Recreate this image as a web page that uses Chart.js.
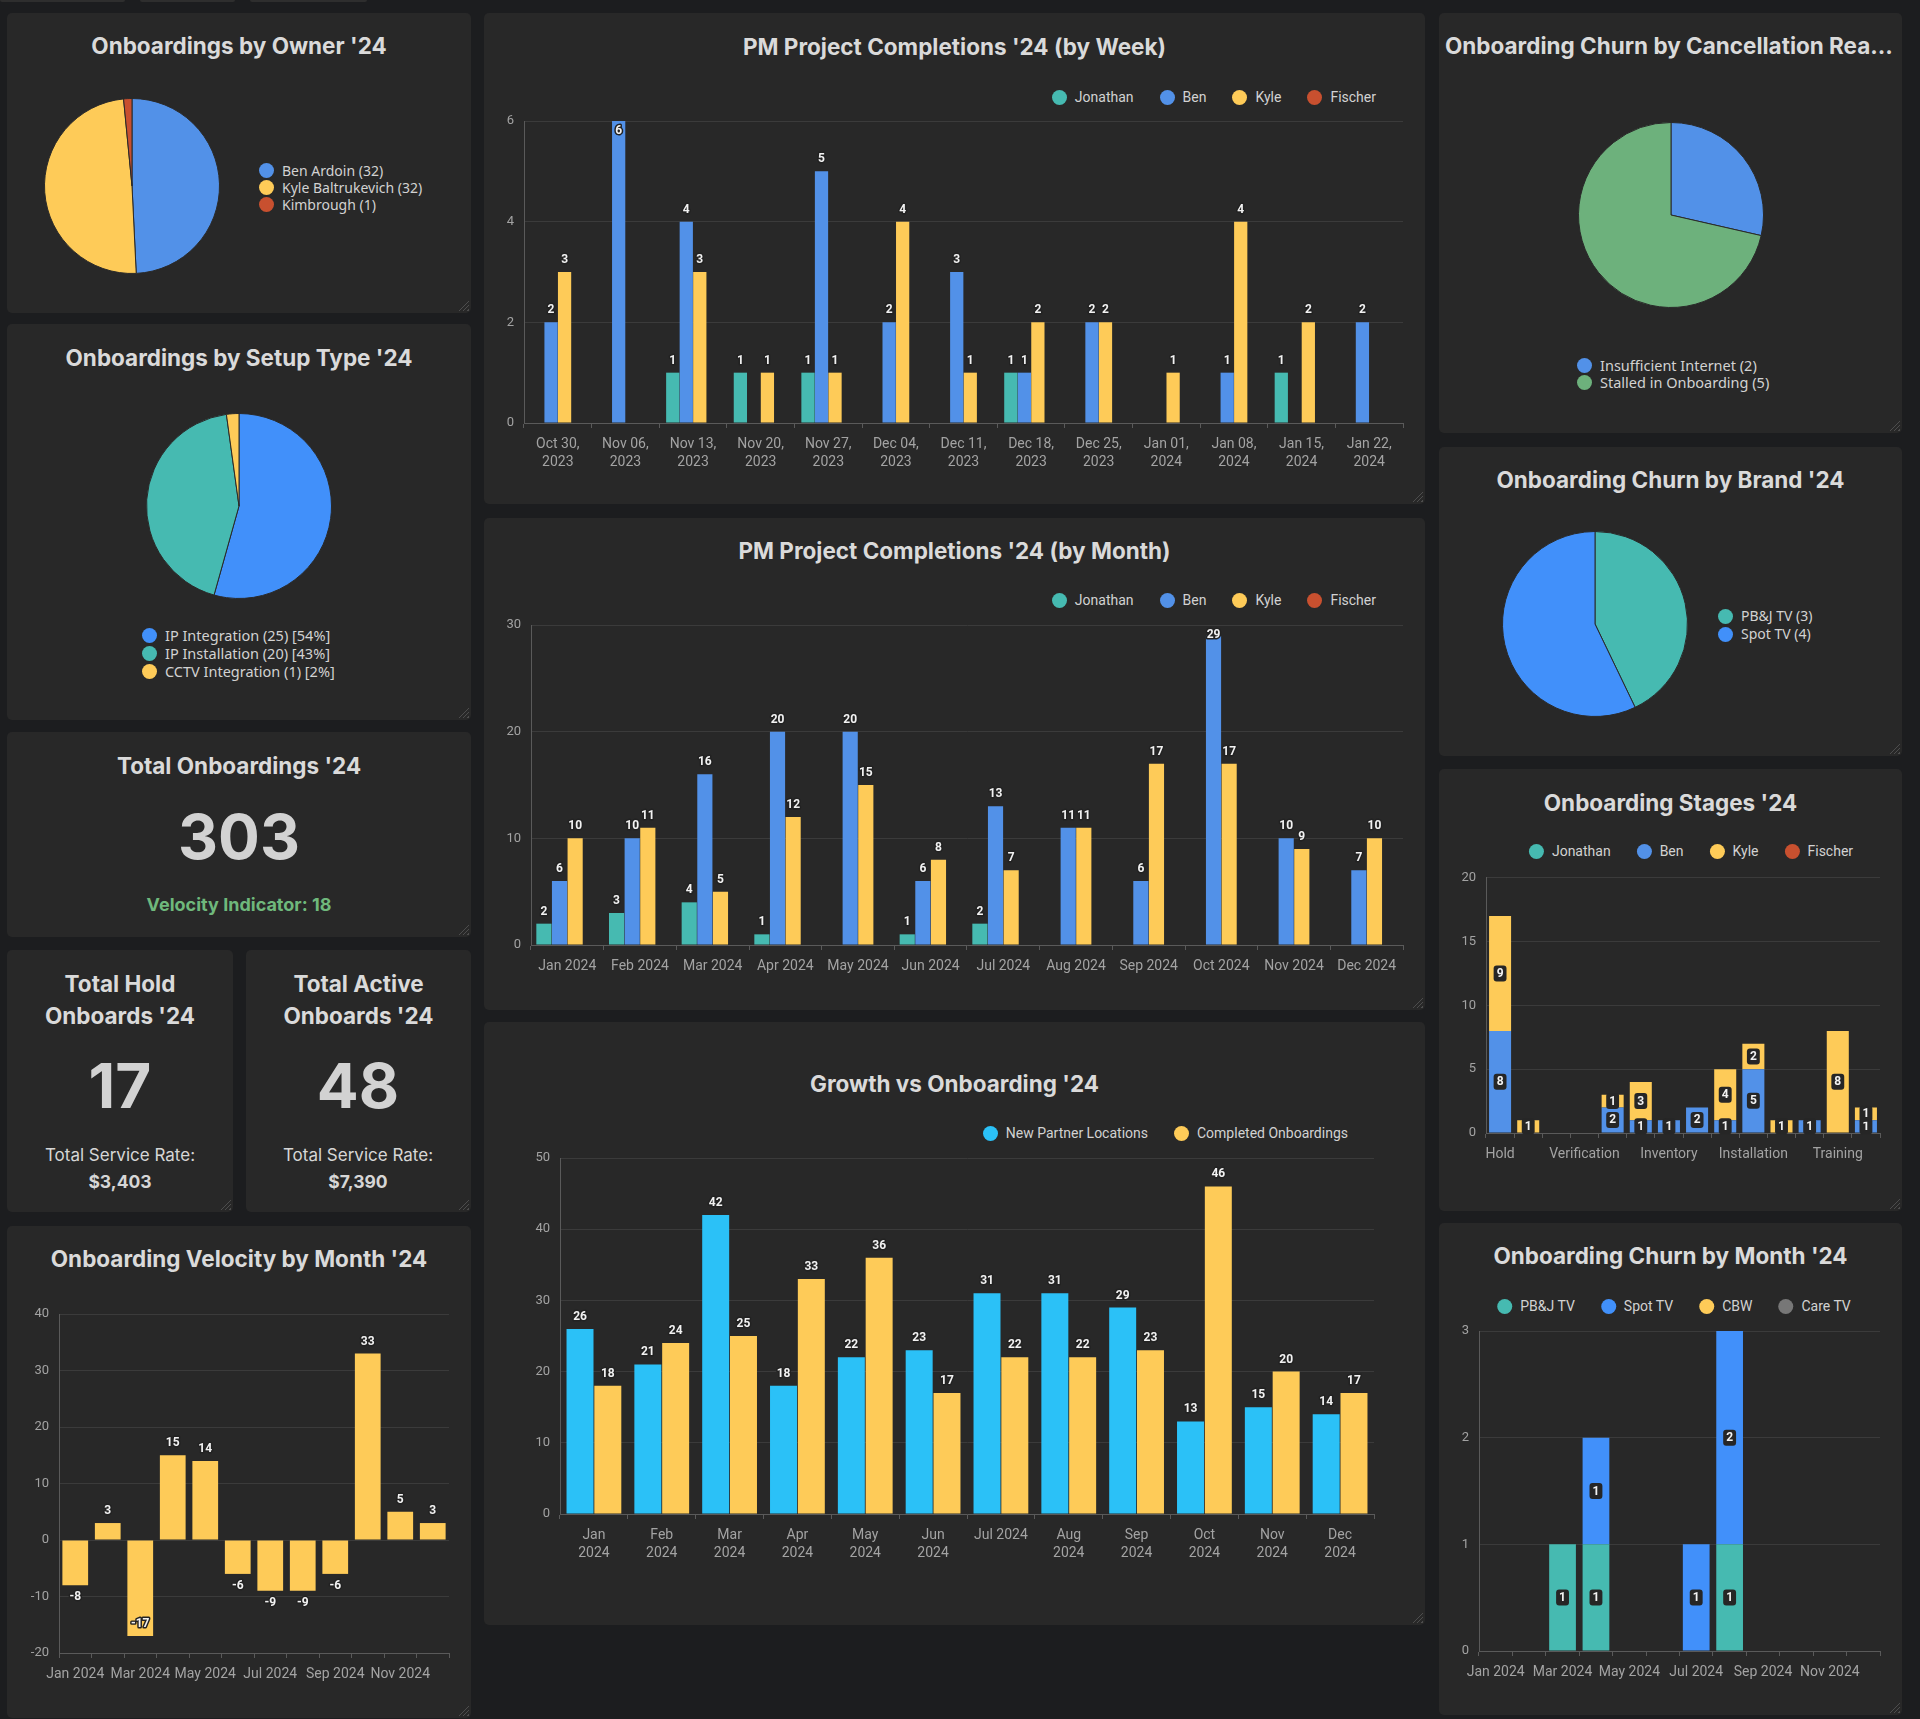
<!DOCTYPE html>
<html><head><meta charset="utf-8">
<script src="https://cdn.jsdelivr.net/npm/chart.js@4.4.1/dist/chart.umd.min.js"></script>
<style>
html,body{margin:0;padding:0;background:#1c1d1f;width:1920px;height:1719px;overflow:hidden;font-family:Inter,"Noto Sans",sans-serif;}
.panel{position:absolute;background:#282828;border-radius:5px;}
.panel::after{content:'';position:absolute;right:2px;bottom:2px;width:11px;height:11px;background:repeating-linear-gradient(135deg,transparent 0 2px,#4d4d4d 2px 3px);clip-path:polygon(100% 0,100% 100%,0 100%);}
.tab{position:absolute;top:0;height:2px;background:#2e2e2e;border-radius:0 0 4px 4px;}
.t{position:absolute;text-align:center;white-space:nowrap;}
.box{position:absolute;}
.leg{position:absolute;display:flex;font:14px Roboto,sans-serif;color:#d2d2d2;white-space:nowrap;}
.leg .it{display:flex;align-items:center;}
.dot{width:15px;height:15px;border-radius:50%;margin-right:8px;flex:none;}
</style>
</head><body>
<script>
// ================= DATA =================
const ownerLabels = ['Ben Ardoin (32)', 'Kyle Baltrukevich (32)', 'Kimbrough (1)'];
const ownerValues = [32, 32, 1];

const setupLabels = ['IP Integration (25) [54%]', 'IP Installation (20) [43%]', 'CCTV Integration (1) [2%]'];
const setupValues = [25, 20, 1];

const cancelLabels = ['Insufficient Internet (2)', 'Stalled in Onboarding (5)'];
const cancelValues = [2, 5];

const brandLabels = ['PB&J TV (3)', 'Spot TV (4)'];
const brandValues = [3, 4];

const pmSeries = ['Jonathan', 'Ben', 'Kyle', 'Fischer'];

const weekLabels = [['Oct 30,','2023'],['Nov 06,','2023'],['Nov 13,','2023'],['Nov 20,','2023'],['Nov 27,','2023'],['Dec 04,','2023'],['Dec 11,','2023'],['Dec 18,','2023'],['Dec 25,','2023'],['Jan 01,','2024'],['Jan 08,','2024'],['Jan 15,','2024'],['Jan 22,','2024']];
const weekJonathan = [0, 0, 1, 1, 1, 0, 0, 1, 0, 0, 0, 1, 0];
const weekBen      = [2, 6, 4, 0, 5, 2, 3, 1, 2, 0, 1, 0, 2];
const weekKyle     = [3, 0, 3, 1, 1, 4, 1, 2, 2, 1, 4, 2, 0];
const weekFischer  = [0, 0, 0, 0, 0, 0, 0, 0, 0, 0, 0, 0, 0];

const monthLabels = ['Jan 2024','Feb 2024','Mar 2024','Apr 2024','May 2024','Jun 2024','Jul 2024','Aug 2024','Sep 2024','Oct 2024','Nov 2024','Dec 2024'];
const monthJonathan = [2, 3, 4, 1, 0, 1, 2, 0, 0, 0, 0, 0];
const monthBen      = [6, 10, 16, 20, 20, 6, 13, 11, 6, 29, 10, 7];
const monthKyle     = [10, 11, 5, 12, 15, 8, 7, 11, 17, 17, 9, 10];
const monthFischer  = [0, 0, 0, 0, 0, 0, 0, 0, 0, 0, 0, 0];

const growthSeries = ['New Partner Locations', 'Completed Onboardings'];
const growthLabels = [['Jan','2024'],['Feb','2024'],['Mar','2024'],['Apr','2024'],['May','2024'],['Jun','2024'],'Jul 2024',['Aug','2024'],['Sep','2024'],['Oct','2024'],['Nov','2024'],['Dec','2024']];
const newPartnerLocations  = [26, 21, 42, 18, 22, 23, 31, 31, 29, 13, 15, 14];
const completedOnboardings = [18, 24, 25, 33, 36, 17, 22, 22, 23, 46, 20, 17];

const velocityValues = [-8, 3, -17, 15, 14, -6, -9, -9, -6, 33, 5, 3];

const stageLabels = ['Hold','','','Verification','','','Inventory','','','Installation','','','Training',''];
const stageJonathan = [0,0,0,0,0,0,0,0,0,0,0,0,0,0];
const stageBen      = [8,0,0,0,2,1,1,2,1,5,0,1,0,1];
const stageKyle     = [9,1,0,0,1,3,0,0,4,2,1,0,8,1];
const stageFischer  = [0,0,0,0,0,0,0,0,0,0,0,0,0,0];

const churnSeries = ['PB&J TV', 'Spot TV', 'CBW', 'Care TV'];
const churnPBJ  = [0, 0, 1, 1, 0, 0, 0, 1, 0, 0, 0, 0];
const churnSpot = [0, 0, 0, 1, 0, 0, 1, 2, 0, 0, 0, 0];
const churnCBW  = [0, 0, 0, 0, 0, 0, 0, 0, 0, 0, 0, 0];
const churnCare = [0, 0, 0, 0, 0, 0, 0, 0, 0, 0, 0, 0];

// ================= STYLE =================
const C = {teal:'#46bab1', ben:'#5291e8', kyle:'#fecb58', red:'#c8502f', blue2:'#4190fa', green:'#6db17c', cyan:'#2bc1f7', gray:'#777777'};
const TICK = '#a3a3a3', GRID = '#3b3b3b', AXIS = '#5a5a5a';

// ================= DOM HELPERS =================
function div(cls, css, text){ const d=document.createElement('div'); if(cls) d.className=cls; Object.assign(d.style, css||{}); if(text!==undefined) d.textContent=text; document.body.appendChild(d); return d; }
function panel(x,y,w,h){ div('panel',{left:x+'px',top:y+'px',width:w+'px',height:h+'px'}); }
function text(t, cx, cy, font, color, lh){ lh=lh||30; return div('t',{left:(cx-300)+'px',width:'600px',top:(cy-lh/2)+'px',height:lh+'px',lineHeight:lh+'px',font:font,color:color},t); }
function title(t, px, pw, cy){ return div('t',{left:px+'px',width:pw+'px',top:(cy+2-15)+'px',height:'30px',lineHeight:'30px',font:'700 22.5px Inter',color:'#dadada'},t); }
function legendRow(names, colors, cy, pos){
  const css={top:(cy-9)+'px',height:'18px',lineHeight:'18px',gap:'26px'};
  if(pos.right!==undefined) css.right=(1920-pos.right)+'px';
  if(pos.center!==undefined){ css.left=pos.center+'px'; css.transform='translateX(-50%)'; }
  const L=div('leg',css);
  names.forEach((n,i)=>{ const it=document.createElement('div'); it.className='it'; const d=document.createElement('span'); d.className='dot'; d.style.background=colors[i]; it.appendChild(d); it.appendChild(document.createTextNode(n)); L.appendChild(it); });
}
function legendCol(names, colors, x, top, rowH, fs){
  const L=div('leg',{left:x+'px',top:top+'px',flexDirection:'column',font:fs+'px "Noto Sans",sans-serif'});
  names.forEach((n,i)=>{ const it=document.createElement('div'); it.className='it'; it.style.height=rowH+'px'; it.style.lineHeight=rowH+'px'; const d=document.createElement('span'); d.className='dot'; d.style.background=colors[i]; it.appendChild(d); it.appendChild(document.createTextNode(n)); L.appendChild(it); });
}
function canvasBox(x,y,w,h){ const b=div('box',{left:x+'px',top:y+'px',width:w+'px',height:h+'px'}); const c=document.createElement('canvas'); b.appendChild(c); return c; }

// ================= LABEL PLUGIN =================
const valueLabels = {
  id:'valueLabels',
  afterDatasetsDraw(chart, args, opts){
    if(!opts || !opts.mode) return;
    const {ctx, chartArea} = chart;
    ctx.save();
    ctx.font = 'bold 12px Roboto';
    ctx.textAlign='center'; ctx.textBaseline='middle';
    chart.data.datasets.forEach((ds, di)=>{
      const meta = chart.getDatasetMeta(di);
      meta.data.forEach((bar, i)=>{
        const v = ds.data[i];
        if(!v) return;
        const s = String(v);
        let x = bar.x, y;
        if(opts.mode==='center'){
          y = (bar.y + bar.base)/2;
          const w = ctx.measureText(s).width;
          ctx.fillStyle='#262626';
          ctx.beginPath(); ctx.roundRect(x-w/2-3, y-8, w+6, 16, 3); ctx.fill();
          ctx.fillStyle='#f2f2f2'; ctx.fillText(s, x, y+0.5);
        } else {
          if(v>=0){ y = bar.y - 12; if(y-7 < chartArea.top) y = chartArea.top + 10; }
          else { y = bar.y + 12; if(y+7 > chartArea.bottom) y = bar.y - 12; }
          ctx.lineWidth=3; ctx.strokeStyle='#222'; ctx.lineJoin='round';
          ctx.strokeText(s, x, y);
          ctx.fillStyle='#f2f2f2'; ctx.fillText(s, x, y);
        }
      });
    });
    ctx.restore();
  }
};
Chart.register(valueLabels);
Chart.defaults.font.family = 'Roboto';

function yScale(min,max,step,width,stacked){
  return {min, max, stacked:!!stacked, ticks:{stepSize:step, color:TICK, font:{family:'Roboto',size:13}, padding:10},
    grid:{color:GRID, drawTicks:false}, border:{color:AXIS},
    afterFit(s){ s.width = width; }};
}
function xScale(height, every, stacked){
  return {stacked:!!stacked, ticks:{color:TICK, font:{family:'Roboto',size:14,lineHeight:1.25}, padding:8, autoSkip:false, maxRotation:0,
      callback:function(v,i){ return (i%every===0) ? this.getLabelForValue(v) : ''; }},
    grid:{drawOnChartArea:false, drawTicks:true, tickLength:5, color:AXIS}, border:{color:AXIS},
    afterFit(s){ s.height = height; }};
}
function barChart(canvas, labels, datasets, xs, ys, pad, mode){
  return new Chart(canvas, {type:'bar', data:{labels, datasets},
    options:{responsive:true, maintainAspectRatio:false, animation:false, events:[],
      layout:{padding:{top:pad.top, right:pad.right, left:0, bottom:0}},
      scales:{x:xs, y:ys},
      plugins:{legend:{display:false}, tooltip:{enabled:false}, valueLabels:{mode}}}});
}
function pieChart(canvas, labels, values, colors){
  return new Chart(canvas, {type:'pie', data:{labels, datasets:[{data:values, backgroundColor:colors, borderColor:'#2a2a2a', borderWidth:1}]},
    options:{responsive:true, maintainAspectRatio:false, animation:false, events:[], layout:{padding:0},
      plugins:{legend:{display:false}, tooltip:{enabled:false}}}});
}

// ================= LAYOUT =================
[[0,125],[140,95],[250,117]].forEach(([x,w])=>div('tab',{left:x+'px',width:w+'px'}));

// left column
panel(7,13,464,300); panel(7,324,464,396); panel(7,732,464,205); panel(7,950,226,262); panel(246,950,225,262); panel(7,1226,464,492);
// middle column
panel(484,13,941,491); panel(484,518,941,492); panel(484,1022,941,603);
// right column
panel(1439,13,463,420); panel(1439,447,463,309); panel(1439,769,463,442); panel(1439,1223,463,492);

// --- Onboardings by Owner
title("Onboardings by Owner '24", 7, 464, 45);
pieChart(canvasBox(132-88,186-88,176,176), ownerLabels, ownerValues, [C.ben, C.kyle, C.red]);
legendCol(ownerLabels, [C.ben, C.kyle, C.red], 259, 162, 17, 14);

// --- Setup type
title("Onboardings by Setup Type '24", 7, 464, 357);
pieChart(canvasBox(239-93,506-93,186,186), setupLabels, setupValues, [C.blue2, C.teal, C.kyle]);
legendCol(setupLabels, [C.blue2, C.teal, C.kyle], 142, 626, 18, 14.5);

// --- Total onboardings
title("Total Onboardings '24", 7, 464, 765);
text('303', 239, 834, '700 62px Inter', '#d2d2d2', 70);
text('Velocity Indicator: 18', 239, 906, '700 18px Inter', '#6fb87c', 24);

// --- Hold / Active
title("Total Hold", 7, 226, 983); title("Onboards '24", 7, 226, 1015);
text('17', 120, 1083, '700 62px Inter', '#d2d2d2', 70);
text('Total Service Rate:', 120, 1156, '400 17px Inter', '#d6d6d6', 22);
text('$3,403', 120, 1182, '700 17.5px Inter', '#d6d6d6', 22);
title("Total Active", 246, 225, 983); title("Onboards '24", 246, 225, 1015);
text('48', 358, 1083, '700 62px Inter', '#d2d2d2', 70);
text('Total Service Rate:', 358, 1156, '400 17px Inter', '#d6d6d6', 22);
text('$7,390', 358, 1182, '700 17.5px Inter', '#d6d6d6', 22);

// --- Velocity
title("Onboarding Velocity by Month '24", 7, 464, 1258);
barChart(canvasBox(7,1290,464,420), monthLabels,
  [{label:'Velocity', data:velocityValues, backgroundColor:C.kyle, categoryPercentage:0.8, barPercentage:0.99}],
  xScale(57,2), yScale(-20,40,10,52), {top:24,right:22}, 'top');

// --- Weekly
title("PM Project Completions '24 (by Week)", 484, 941, 46);
legendRow(pmSeries, [C.teal, C.ben, C.kyle, C.red], 97, {right:1376});
const pmColors = [C.teal, C.ben, C.kyle, C.red];
barChart(canvasBox(484,100,941,380), weekLabels,
  [weekJonathan, weekBen, weekKyle, weekFischer].map((d,i)=>({label:pmSeries[i], data:d, backgroundColor:pmColors[i], categoryPercentage:0.8, barPercentage:0.98})),
  xScale(57,1), yScale(0,6,2,40), {top:21,right:22}, 'top');

// --- Monthly
title("PM Project Completions '24 (by Month)", 484, 941, 550);
legendRow(pmSeries, pmColors, 600, {right:1376});
barChart(canvasBox(484,600,941,400), monthLabels,
  [monthJonathan, monthBen, monthKyle, monthFischer].map((d,i)=>({label:pmSeries[i], data:d, backgroundColor:pmColors[i], categoryPercentage:0.86, barPercentage:0.97})),
  xScale(55,1), yScale(0,30,10,47), {top:25,right:22}, 'top');

// --- Growth
title("Growth vs Onboarding '24", 484, 941, 1083);
legendRow(growthSeries, [C.cyan, C.kyle], 1133, {right:1348});
barChart(canvasBox(484,1130,941,440), growthLabels,
  [newPartnerLocations, completedOnboardings].map((d,i)=>({label:growthSeries[i], data:d, backgroundColor:[C.cyan,C.kyle][i], categoryPercentage:0.82, barPercentage:0.97})),
  xScale(56,1), yScale(0,50,10,76), {top:28,right:51}, 'top');

// --- Cancellation
div('t',{left:'1439px',width:'463px',top:'32px',height:'30px',lineHeight:'30px',font:'700 22.5px Inter',color:'#dadada',textAlign:'left',padding:'0 8px 0 6px',boxSizing:'border-box',overflow:'hidden',textOverflow:'ellipsis'},"Onboarding Churn by Cancellation Reason '24");
pieChart(canvasBox(1671-93,215-93,186,186), cancelLabels, cancelValues, [C.ben, C.green]);
legendCol(cancelLabels, [C.ben, C.green], 1577, 357, 17, 14.5);

// --- Brand
title("Onboarding Churn by Brand '24", 1439, 463, 479);
pieChart(canvasBox(1595-93,624-93,186,186), brandLabels, brandValues, [C.teal, C.blue2]);
legendCol(brandLabels, [C.teal, C.blue2], 1718, 607, 18, 14);

// --- Stages
title("Onboarding Stages '24", 1439, 463, 802);
legendRow(pmSeries, pmColors, 851, {center:1691});
barChart(canvasBox(1439,860,463,330), stageLabels,
  [stageJonathan, stageBen, stageKyle, stageFischer].map((d,i)=>({label:pmSeries[i], data:d, backgroundColor:pmColors[i], categoryPercentage:0.87, barPercentage:0.9})),
  xScale(57,1,true), yScale(0,20,5,47,true), {top:16,right:22}, 'center');

// --- Churn by Month
title("Onboarding Churn by Month '24", 1439, 463, 1255);
const churnColors = [C.teal, C.blue2, C.kyle, C.gray];
legendRow(churnSeries, churnColors, 1306, {center:1674});
barChart(canvasBox(1439,1310,463,400), monthLabels,
  [churnPBJ, churnSpot, churnCBW, churnCare].map((d,i)=>({label:churnSeries[i], data:d, backgroundColor:churnColors[i], categoryPercentage:0.8, barPercentage:1})),
  xScale(59,2,true), yScale(0,3,1,40,true), {top:21,right:22}, 'center');
</script>
</body></html>
